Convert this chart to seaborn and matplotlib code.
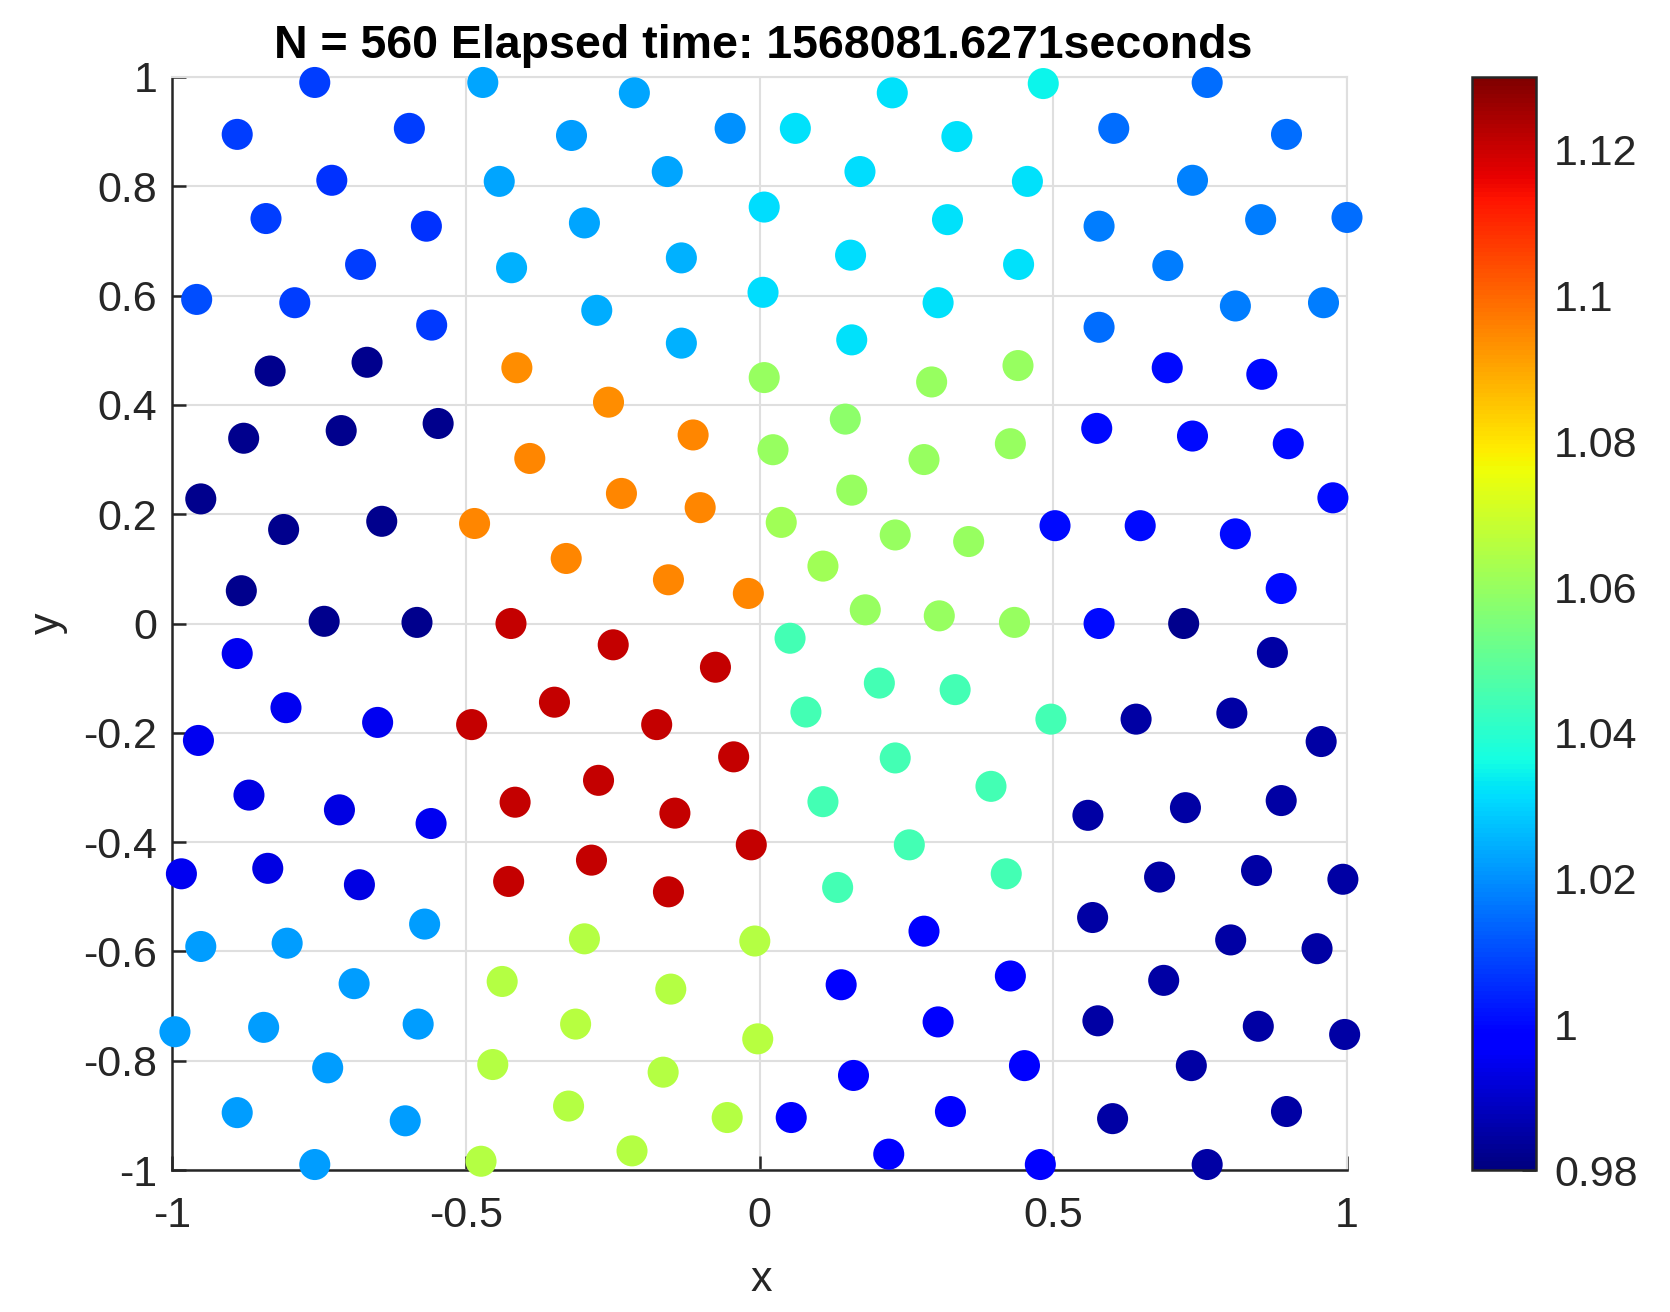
import numpy as np
import pandas as pd
import matplotlib
matplotlib.use('Agg')
import matplotlib.pyplot as plt
import seaborn as sns
from matplotlib.cm import ScalarMappable
from matplotlib.colors import Normalize

# node positions and value at each node
x_vals = [-0.757,-0.471,-0.213,0.226,0.483,0.762,-0.889,-0.596,-0.320,-0.050,0.061,0.336,0.603,0.897,
          -0.728,-0.443,-0.157,0.171,0.456,0.737,-0.840,-0.567,-0.298,0.008,0.320,0.578,0.853,1.0,
          -0.679,-0.422,-0.133,0.155,0.441,0.695,-0.958,-0.791,-0.558,-0.277,0.006,0.304,0.578,0.810,0.960,
          -0.133,0.157,-0.833,-0.668,-0.413,0.008,0.293,0.440,0.694,0.855,-0.257,0.146,
          -0.878,-0.712,-0.547,-0.113,0.427,0.574,0.737,0.900,-0.391,0.023,0.280,
          -0.951,-0.235,0.157,0.976,-0.810,-0.643,-0.485,-0.101,0.037,0.231,0.356,0.503,0.648,0.810,
          -0.329,0.108,-0.155,-0.882,-0.019,0.888,0.180,0.306,-0.741,-0.583,-0.423,0.434,0.578,0.722,
          -0.249,0.052,-0.889,0.873,-0.075,0.204,0.333,-0.349,-0.806,0.079,0.804,-0.650,-0.490,-0.175,0.496,0.641,
          -0.955,0.956,-0.044,0.231,-0.274,0.394,-0.869,-0.416,0.108,0.888,-0.715,0.725,-0.144,0.559,-0.559,
          0.255,-0.014,-0.286,-0.837,-0.984,0.420,0.846,0.681,0.993,-0.427,-0.681,0.133,-0.155,
          0.567,-0.570,0.280,-0.298,-0.008,0.802,-0.804,-0.951,0.949,0.427,-0.438,0.688,-0.690,0.139,-0.151,
          0.576,0.304,-0.313,-0.581,0.849,-0.844,-0.995,0.996,-0.003,-0.454,0.451,0.735,-0.735,-0.164,0.160,
          -0.325,-0.889,0.325,0.897,-0.055,0.054,0.601,-0.603,0.220,-0.217,-0.474,-0.757,0.478,0.762]
y_vals = [0.990,0.990,0.971,0.971,0.988,0.990,0.895,0.906,0.893,0.906,0.906,0.891,0.906,0.895,
          0.811,0.809,0.827,0.827,0.809,0.811,0.741,0.727,0.733,0.762,0.739,0.727,0.739,0.743,
          0.657,0.651,0.669,0.674,0.657,0.655,0.593,0.587,0.546,0.573,0.606,0.587,0.542,0.581,0.587,
          0.513,0.519,0.462,0.478,0.468,0.450,0.442,0.472,0.468,0.456,0.405,0.374,
          0.339,0.353,0.366,0.345,0.329,0.357,0.343,0.329,0.302,0.318,0.300,
          0.228,0.238,0.244,0.230,0.172,0.187,0.183,0.212,0.185,0.162,0.150,0.179,0.179,0.164,
          0.119,0.105,0.080,0.060,0.055,0.064,0.025,0.014,0.004,0.002,0.0,0.002,0.0,0.0,
          -0.039,-0.027,-0.055,-0.053,-0.080,-0.109,-0.121,-0.144,-0.154,-0.162,-0.164,-0.181,-0.185,-0.185,-0.175,-0.175,
          -0.214,-0.216,-0.244,-0.246,-0.287,-0.298,-0.314,-0.327,-0.326,-0.324,-0.341,-0.337,-0.347,-0.351,-0.366,
          -0.405,-0.405,-0.433,-0.448,-0.458,-0.458,-0.452,-0.464,-0.468,-0.472,-0.478,-0.483,-0.491,
          -0.538,-0.550,-0.563,-0.577,-0.581,-0.579,-0.585,-0.591,-0.595,-0.645,-0.655,-0.653,-0.659,-0.661,-0.669,
          -0.727,-0.729,-0.733,-0.733,-0.737,-0.739,-0.747,-0.752,-0.760,-0.807,-0.809,-0.809,-0.813,-0.821,-0.827,
          -0.883,-0.895,-0.893,-0.893,-0.904,-0.904,-0.906,-0.910,-0.971,-0.965,-0.984,-0.990,-0.990,-0.990]
c_vals = [1.008,1.023,1.023,1.032,1.035,1.015,1.008,1.008,1.022,1.02,1.032,1.032,1.015,1.015,
          1.006,1.023,1.023,1.031,1.032,1.018,1.008,1.006,1.023,1.031,1.032,1.017,1.017,1.015,
          1.008,1.025,1.025,1.031,1.032,1.017,1.01,1.008,1.007,1.024,1.031,1.032,1.015,1.017,1.017,
          1.025,1.032,0.982,0.982,1.094,1.06,1.06,1.06,1.0,1.0,1.094,1.058,
          0.982,0.982,0.982,1.095,1.06,1.0,1.0,1.0,1.095,1.06,1.06,
          0.982,1.095,1.06,1.0,0.982,0.982,1.095,1.095,1.062,1.06,1.06,1.0,1.0,1.0,
          1.095,1.062,1.095,0.982,1.095,1.0,1.06,1.06,0.982,0.982,1.121,1.06,1.0,0.982,
          1.121,1.045,0.995,0.985,1.121,1.045,1.045,1.121,0.995,1.045,0.985,0.995,1.121,1.121,1.045,0.985,
          0.995,0.985,1.121,1.045,1.121,1.045,0.993,1.121,1.045,0.985,0.993,0.985,1.121,0.985,0.995,
          1.045,1.121,1.121,0.993,0.995,1.045,0.985,0.985,0.985,1.121,0.993,1.045,1.121,
          0.985,1.022,0.998,1.065,1.065,0.985,1.022,1.022,0.985,0.998,1.065,0.985,1.022,0.998,1.065,
          0.985,0.998,1.066,1.022,0.985,1.022,1.022,0.985,1.066,1.065,0.998,0.985,1.022,1.065,0.998,
          1.065,1.022,0.998,0.985,1.065,0.998,0.985,1.022,0.998,1.065,1.065,1.022,0.998,0.985]

x_ticks = [-1, -0.5, 0, 0.5, 1]
y_ticks = [-1, -0.8, -0.6, -0.4, -0.2, 0, 0.2, 0.4, 0.6, 0.8, 1]
cbar_ticks = [0.98, 1, 1.02, 1.04, 1.06, 1.08, 1.1, 1.12]
c_min, c_max = 0.98, 1.13

W, H = 1670, 1312
TEXT = '#262626'

sns.set_style("whitegrid")
plt.rcParams['font.family'] = ['Liberation Sans', 'DejaVu Sans']
plt.rcParams['axes.unicode_minus'] = False


def ax_rect(left, top, right, bottom):
    return [left / W, 1 - bottom / H, (right - left) / W, (bottom - top) / H]


df = pd.DataFrame({'x': x_vals, 'y': y_vals, 'c': c_vals})
fig = plt.figure(figsize=(W / 100, H / 100), dpi=100, facecolor='white')
ax = fig.add_axes(ax_rect(172, 77, 1347, 1170))

norm = Normalize(c_min, c_max)
jet = plt.get_cmap('jet')
sns.scatterplot(data=df, x='x', y='y', hue='c', hue_norm=norm, palette=jet, legend=False,
                s=500, linewidth=0, clip_on=False, zorder=5, ax=ax)

ax.set_xlim(-1, 1)
ax.set_ylim(-1, 1)
ax.set_xticks(x_ticks)
ax.set_yticks(y_ticks)
ax.set_xticklabels([f'{t:g}' for t in x_ticks])
ax.set_yticklabels([f'{t:g}' for t in y_ticks])
ax.grid(True, color='#dfdfdf', linewidth=1.5)
ax.set_axisbelow(True)
ax.tick_params(axis='both', direction='in', length=10, width=1.8, color=TEXT,
               labelsize=31, labelcolor=TEXT, left=True, bottom=True)
ax.tick_params(axis='x', pad=19)
ax.tick_params(axis='y', pad=10.5)
for side in ['left', 'bottom']:
    ax.spines[side].set_color(TEXT)
    ax.spines[side].set_linewidth(1.8)
for side in ['top', 'right']:
    ax.spines[side].set_color('#dfdfdf')
    ax.spines[side].set_linewidth(1.5)

ax.set_xlabel('x', fontsize=31, color=TEXT)
ax.set_ylabel('y', fontsize=31, color=TEXT)
ax.xaxis.set_label_coords((761 - 172) / (1347 - 172), -(1280 - 1170) / (1170 - 77), transform=ax.transAxes)
ax.yaxis.set_label_coords(-(172 - 48) / (1347 - 172), 0.5, transform=ax.transAxes)
ax.xaxis.label.set_verticalalignment('center')
ax.yaxis.label.set_verticalalignment('center')

fig.text(763 / W, 1 - 46 / H, 'N = 560 Elapsed time: 1568081.6271seconds',
         fontsize=33.5, fontweight='bold', color='black', ha='center', va='center')

cax = fig.add_axes(ax_rect(1472, 77, 1536, 1170))
cbar = fig.colorbar(ScalarMappable(norm=norm, cmap=jet), cax=cax)
cbar.set_ticks(cbar_ticks)
cbar.set_ticklabels([f'{t:g}' for t in cbar_ticks])
cax.tick_params(axis='y', direction='in', length=10, width=1.8, color=TEXT,
                labelsize=31, labelcolor=TEXT, pad=13, right=True, left=False)
cax.grid(False)
cbar.outline.set_edgecolor(TEXT)
cbar.outline.set_linewidth(1.8)

fig.savefig('out.png', dpi=100, facecolor='white')
